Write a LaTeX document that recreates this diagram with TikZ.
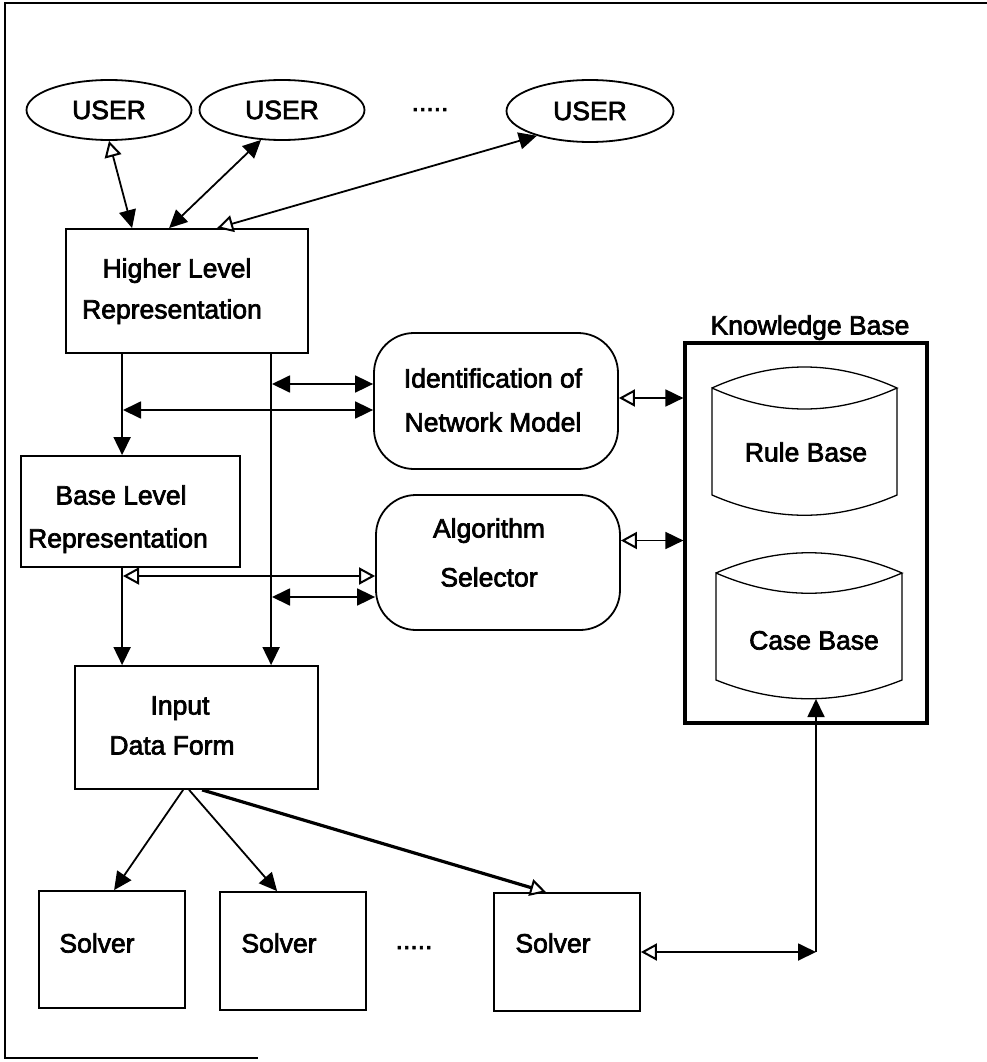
\documentclass[tikz,border=0pt]{standalone}
\usepackage{fontspec}
\setmainfont{Liberation Sans}
\newfontfamily\hfont{Liberation Sans}[FakeBold=2.6]
\usetikzlibrary{arrows.meta,shapes.geometric,calc}
\newcommand\dfont{\hfont\fontsize{26.5}{30}\selectfont}
\begin{document}
\begin{tikzpicture}[x=1pt,y=-1pt,
  fh/.tip={Triangle[length=18pt,width=17pt]},
  oh/.tip={Triangle[open,fill=white,length=16pt,width=17pt,line width=2pt]},
  box/.style={draw,line width=1.8pt,inner sep=0pt,rectangle},
  rbox/.style={box,rounded corners=40pt},
  usr/.style={draw,ellipse,line width=1.8pt,inner sep=0pt,minimum width=165pt,minimum height=60pt,font=\dfont},
  txt/.style={inner sep=0pt,text height=19pt,text depth=0pt,font=\dfont},
  dots/.style={inner sep=0pt,anchor=base,font=\dfont},
  con/.style={line width=1.8pt},
  cyl/.style={draw,line width=1.3pt}]
\useasboundingbox (0,0) rectangle (987,1062);
% frame
\draw[line width=1.8pt] (987,3) -- (5,3) -- (5,1058) -- (258,1058);

% users
\node[usr] (u1) at (109,110) {USER};
\node[usr] (u2) at (282,110) {USER};
\node[usr,minimum width=167pt,minimum height=62pt] (u3) at (590,111) {USER};
\node[dots] (d1) at (430,111) {.....};

% higher level
\node[box,minimum width=242pt,minimum height=124pt] (hl) at (187,291) {};
\node[txt] (hl1) at (177,268) {Higher Level};
\node[txt] (hl2) at (172,309) {Representation};

% base level
\node[box,minimum width=219pt,minimum height=111pt] (bl) at (130.5,511.5) {};
\node[txt] (bl1) at (121,495) {Base Level};
\node[txt] (bl2) at (118,538) {Representation};

% identification
\node[rbox,minimum width=244pt,minimum height=136pt] (idn) at (496,401) {};
\node[txt] (idn1) at (493,378) {Identification of};
\node[txt] (idn2) at (493,422) {Network Model};

% algorithm selector
\node[rbox,minimum width=244pt,minimum height=135pt] (alg) at (498,562.5) {};
\node[txt] (alg1) at (489,528) {Algorithm};
\node[txt] (alg2) at (489,577) {Selector};

% knowledge base
\node[box,line width=3.2pt,minimum width=242pt,minimum height=380pt] (kb) at (806,533) {};
\node[txt] (kbl) at (810,325) {Knowledge Base};
\draw[cyl] (712,388) .. controls (774,360) and (835,360) .. (897,388)
  .. controls (835,416) and (774,416) .. (712,388) -- (712,495)
  .. controls (774,522) and (835,522) .. (897,495) -- (897,388);
\node[txt] (rb) at (806,452) {Rule Base};
\draw[cyl] (716,573) .. controls (778,546) and (840,546) .. (902,573)
  .. controls (840,600) and (778,600) .. (716,573) -- (716,680)
  .. controls (778,705) and (840,705) .. (902,680) -- (902,573);
\node[txt] (cb) at (814,640) {Case Base};
\coordinate (cbb) at (816,699);

% input data form
\node[box,minimum width=243pt,minimum height=123pt] (idf) at (196.5,727.5) {};
\node[txt] (idf1) at (180,705) {Input};
\node[txt] (idf2) at (172,745) {Data Form};

% solvers
\node[box,minimum width=146pt,minimum height=117pt] (s1) at (112,949.5) {};
\node[box,minimum width=146pt,minimum height=118pt] (s2) at (293,951) {};
\node[box,minimum width=146pt,minimum height=118pt] (s3) at (567,952) {};
\node[txt] (s1t) at (97,943) {Solver};
\node[txt] (s2t) at (279,943) {Solver};
\node[txt] (s3t) at (553,943) {Solver};
\node[dots] (d2) at (414,949) {.....};

% user connectors
\draw[con,{oh}-{fh}] (u1.south) -- ([xshift=67pt]hl.north west);
\draw[con,{fh}-{fh}] (u2.235) -- ([xshift=104pt]hl.north west);
\draw[con,{fh}-{oh}] (u3.205) -- ([xshift=152pt]hl.north west);

% vertical lines
\draw[con,-{fh}] ([xshift=57pt]hl.south west) coordinate (va) -- (va |- bl.north);
\draw[con,-{fh}] ([xshift=206pt]hl.south west) coordinate (vb) -- (vb |- idf.north);
\draw[con,-{fh}] (va |- bl.south) -- (va |- idf.north);

% horizontal connectors
\coordinate (h1) at (272,384);
\coordinate (h2) at (123,410);
\coordinate (h3) at (123,576);
\coordinate (h4) at (272,597);
\draw[con,{fh}-{fh}] (h1) -- (h1 -| idn.west);
\draw[con,{fh}-{fh}] (h2) -- (h2 -| idn.west);
\draw[con,{oh}-{oh}] (h3) -- (h3 -| alg.west);
\draw[con,{fh}-{fh}] (h4) -- (h4 -| alg.west);

% to knowledge base
\draw[con,{oh}-{fh}] ([yshift=3pt]idn.east) coordinate (k1) -- (k1 -| kb.west);
\draw[con,{oh}-{fh}] ([yshift=22pt]alg.east) coordinate (k2) -- (k2 -| kb.west);

% to solvers
\draw[con,-{fh}] ([xshift=109pt]idf.south west) -- ([xshift=76pt]s1.north west);
\draw[con,-{fh}] ([xshift=115pt]idf.south west) -- ([xshift=58pt]s2.north west);
\draw[con,line width=3.2pt,-{oh}] ([xshift=128pt]idf.south west) -- ([xshift=53pt]s3.north west);

% solver to case base
\coordinate (c1) at (816,952);
\draw[con,{oh}-{fh}] (s3.east) -- (c1);
\draw[con,-{fh}] (c1) -- (cbb);
\end{tikzpicture}
\end{document}
